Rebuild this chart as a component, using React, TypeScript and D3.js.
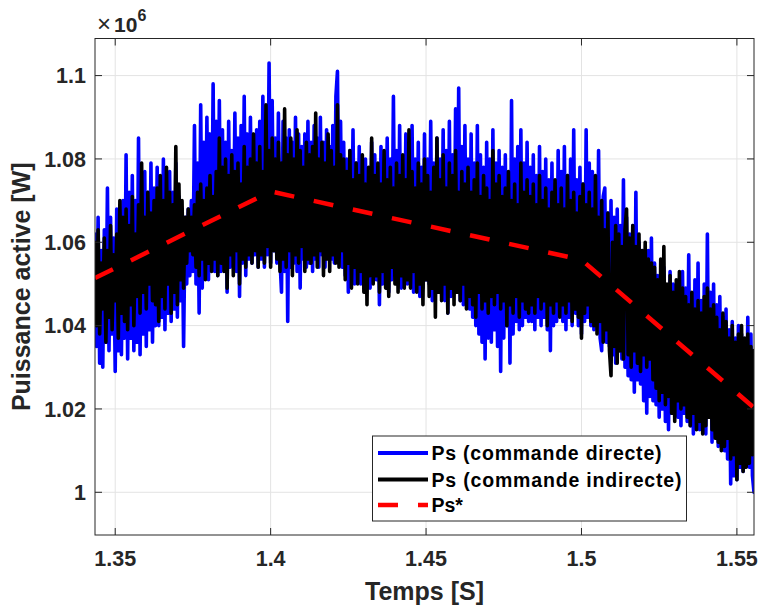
import React from 'react';
import * as d3 from 'd3';

// ---- data (power in units of 1e6 W), sampled every T_STEP seconds from T_START ----
const T_START = 1.3435;
const T_STEP = 0.0005;

const blueValues = [
  1.062, 1.035, 1.066, 1.031, 1.058, 1.030, 1.063, 1.036, 1.073, 1.034, 1.066, 1.038, 1.061, 1.029, 1.068, 1.034, 1.064, 1.033, 1.070, 1.037,
  1.081, 1.032, 1.072, 1.037, 1.076, 1.034, 1.070, 1.036, 1.085, 1.033, 1.074, 1.038, 1.077, 1.035, 1.072, 1.039, 1.079, 1.036, 1.073, 1.040,
  1.078, 1.040, 1.073, 1.042, 1.080, 1.039, 1.074, 1.043, 1.077, 1.041, 1.072, 1.044, 1.079, 1.042, 1.071, 1.046, 1.068, 1.035, 1.066, 1.050,
  1.068, 1.052, 1.070, 1.053, 1.088, 1.050, 1.079, 1.043, 1.093, 1.049, 1.084, 1.052, 1.090, 1.051, 1.086, 1.054, 1.098, 1.053, 1.089, 1.052,
  1.094, 1.053, 1.087, 1.055, 1.084, 1.048, 1.089, 1.054, 1.082, 1.056, 1.091, 1.053, 1.085, 1.047, 1.088, 1.055, 1.095, 1.052, 1.086, 1.056,
  1.090, 1.055, 1.084, 1.057, 1.087, 1.054, 1.089, 1.056, 1.095, 1.054, 1.086, 1.057, 1.103, 1.055, 1.094, 1.058, 1.085, 1.055, 1.091, 1.056,
  1.048, 1.089, 1.053, 1.085, 1.041, 1.087, 1.054, 1.084, 1.055, 1.090, 1.053, 1.086, 1.049, 1.083, 1.056, 1.086, 1.054, 1.089, 1.055, 1.084,
  1.053, 1.088, 1.056, 1.085, 1.054, 1.090, 1.057, 1.084, 1.054, 1.087, 1.058, 1.083, 1.056, 1.088, 1.055, 1.095, 1.101, 1.057, 1.089, 1.054,
  1.084, 1.052, 1.080, 1.048, 1.082, 1.053, 1.087, 1.050, 1.079, 1.052, 1.083, 1.050, 1.078, 1.051, 1.080, 1.049, 1.076, 1.049, 1.084, 1.051,
  1.081, 1.051, 1.077, 1.045, 1.083, 1.050, 1.079, 1.052, 1.085, 1.048, 1.080, 1.051, 1.095, 1.052, 1.082, 1.050, 1.088, 1.049, 1.079, 1.051,
  1.086, 1.050, 1.081, 1.052, 1.088, 1.048, 1.080, 1.051, 1.084, 1.047, 1.078, 1.049, 1.086, 1.051, 1.080, 1.050, 1.089, 1.046, 1.079, 1.048,
  1.085, 1.048, 1.080, 1.050, 1.087, 1.046, 1.082, 1.043, 1.089, 1.047, 1.081, 1.049, 1.092, 1.050, 1.097, 1.046, 1.083, 1.045, 1.088, 1.047,
  1.080, 1.044, 1.086, 1.042, 1.079, 1.040, 1.088, 1.038, 1.081, 1.036, 1.078, 1.032, 1.084, 1.037, 1.080, 1.036, 1.087, 1.039, 1.079, 1.035,
  1.082, 1.029, 1.078, 1.037, 1.081, 1.040, 1.076, 1.031, 1.094, 1.038, 1.080, 1.041, 1.083, 1.039, 1.087, 1.040, 1.079, 1.042, 1.084, 1.041,
  1.078, 1.041, 1.081, 1.039, 1.076, 1.042, 1.083, 1.040, 1.077, 1.042, 1.080, 1.039, 1.075, 1.034, 1.079, 1.040, 1.074, 1.041, 1.082, 1.043,
  1.077, 1.041, 1.083, 1.039, 1.076, 1.042, 1.080, 1.040, 1.087, 1.043, 1.075, 1.040, 1.078, 1.038, 1.074, 1.041, 1.087, 1.042, 1.079, 1.040,
  1.077, 1.039, 1.073, 1.041, 1.082, 1.037, 1.034, 1.071, 1.073, 1.036, 1.067, 1.035, 1.070, 1.033, 1.066, 1.031, 1.068, 1.034, 1.064, 1.032,
  1.075, 1.030, 1.066, 1.028, 1.062, 1.027, 1.064, 1.024, 1.072, 1.027, 1.060, 1.026, 1.058, 1.022, 1.055, 1.019, 1.058, 1.023, 1.061, 1.022,
  1.055, 1.021, 1.052, 1.018, 1.050, 1.020, 1.054, 1.017, 1.048, 1.015, 1.053, 1.019, 1.050, 1.020, 1.047, 1.018, 1.051, 1.016, 1.053, 1.019,
  1.049, 1.017, 1.057, 1.016, 1.047, 1.014, 1.051, 1.017, 1.055, 1.015, 1.046, 1.016, 1.050, 1.014, 1.062, 1.018, 1.048, 1.012, 1.050, 1.015,
  1.045, 1.011, 1.047, 1.013, 1.042, 1.010, 1.044, 1.008, 1.039, 1.002, 1.041, 1.004, 1.037, 1.003, 1.040, 1.006, 1.038, 1.005, 1.036, 1.007,
  1.042, 1.006, 1.038, 1.004, 1.000,
];

const blackValues = [
  1.060, 1.040, 1.063, 1.038, 1.055, 1.044, 1.061, 1.036, 1.058, 1.042, 1.064, 1.039, 1.057, 1.046, 1.062, 1.037, 1.070, 1.043, 1.066, 1.041,
  1.068, 1.039, 1.064, 1.045, 1.071, 1.040, 1.062, 1.047, 1.069, 1.043, 1.079, 1.048, 1.066, 1.044, 1.072, 1.050, 1.067, 1.046, 1.070, 1.045,
  1.073, 1.041, 1.076, 1.047, 1.070, 1.044, 1.078, 1.050, 1.072, 1.043, 1.069, 1.048, 1.083, 1.045, 1.074, 1.051, 1.070, 1.049, 1.066, 1.055,
  1.068, 1.058, 1.066, 1.057, 1.069, 1.054, 1.072, 1.052, 1.074, 1.056, 1.070, 1.051, 1.073, 1.055, 1.076, 1.053, 1.071, 1.056, 1.077, 1.052,
  1.085, 1.055, 1.078, 1.053, 1.080, 1.049, 1.076, 1.057, 1.081, 1.052, 1.077, 1.058, 1.079, 1.050, 1.074, 1.056, 1.083, 1.054, 1.078, 1.057,
  1.080, 1.055, 1.086, 1.058, 1.079, 1.054, 1.083, 1.057, 1.077, 1.055, 1.093, 1.059, 1.082, 1.054, 1.085, 1.058, 1.080, 1.056, 1.084, 1.053,
  1.079, 1.056, 1.092, 1.054, 1.081, 1.058, 1.085, 1.052, 1.080, 1.057, 1.087, 1.055, 1.082, 1.059, 1.078, 1.053, 1.084, 1.056, 1.081, 1.055,
  1.083, 1.057, 1.091, 1.054, 1.080, 1.058, 1.084, 1.052, 1.079, 1.056, 1.086, 1.053, 1.082, 1.057, 1.078, 1.055, 1.093, 1.054, 1.081, 1.058,
  1.080, 1.051, 1.077, 1.055, 1.082, 1.049, 1.075, 1.054, 1.079, 1.050, 1.076, 1.053, 1.081, 1.048, 1.074, 1.045, 1.078, 1.052, 1.085, 1.050,
  1.076, 1.052, 1.079, 1.048, 1.074, 1.053, 1.082, 1.049, 1.075, 1.047, 1.078, 1.054, 1.073, 1.050, 1.079, 1.048, 1.076, 1.052, 1.081, 1.049,
  1.075, 1.051, 1.087, 1.049, 1.077, 1.053, 1.073, 1.048, 1.079, 1.050, 1.074, 1.045, 1.080, 1.051, 1.076, 1.047, 1.072, 1.049, 1.078, 1.042,
  1.085, 1.048, 1.075, 1.046, 1.081, 1.050, 1.073, 1.043, 1.079, 1.049, 1.076, 1.045, 1.082, 1.048, 1.072, 1.046, 1.077, 1.050, 1.074, 1.044,
  1.078, 1.047, 1.072, 1.045, 1.075, 1.042, 1.079, 1.048, 1.071, 1.044, 1.076, 1.046, 1.073, 1.043, 1.070, 1.047, 1.082, 1.045, 1.074, 1.048,
  1.076, 1.044, 1.071, 1.046, 1.073, 1.040, 1.077, 1.045, 1.070, 1.043, 1.074, 1.047, 1.069, 1.042, 1.079, 1.046, 1.072, 1.044, 1.075, 1.043,
  1.071, 1.045, 1.074, 1.043, 1.069, 1.047, 1.076, 1.044, 1.070, 1.046, 1.073, 1.040, 1.068, 1.045, 1.072, 1.043, 1.075, 1.046, 1.069, 1.042,
  1.073, 1.045, 1.068, 1.043, 1.076, 1.046, 1.070, 1.041, 1.072, 1.044, 1.067, 1.042, 1.071, 1.037, 1.074, 1.043, 1.069, 1.045, 1.072, 1.041,
  1.068, 1.040, 1.076, 1.038, 1.066, 1.041, 1.070, 1.036, 1.063, 1.039, 1.067, 1.034, 1.028, 1.060, 1.035, 1.064, 1.031, 1.062, 1.034, 1.059,
  1.032, 1.063, 1.068, 1.033, 1.061, 1.030, 1.064, 1.034, 1.059, 1.031, 1.062, 1.029, 1.058, 1.033, 1.060, 1.030, 1.056, 1.032, 1.055, 1.027,
  1.054, 1.025, 1.051, 1.022, 1.056, 1.024, 1.059, 1.021, 1.050, 1.023, 1.052, 1.019, 1.048, 1.017, 1.051, 1.022, 1.053, 1.020, 1.049, 1.021,
  1.047, 1.018, 1.045, 1.016, 1.048, 1.019, 1.044, 1.015, 1.046, 1.017, 1.043, 1.014, 1.047, 1.016, 1.049, 1.018, 1.044, 1.015, 1.045, 1.013,
  1.042, 1.012, 1.039, 1.010, 1.043, 1.011, 1.041, 1.013, 1.037, 1.008, 1.040, 1.009, 1.036, 1.003, 1.038, 1.007, 1.040, 1.005, 1.037, 1.006,
  1.038, 1.007, 1.035, 1.009, 1.034,
];

const refTimes = [1.3435, 1.4, 1.5, 1.5555];
const refValues = [1.0514, 1.0722, 1.0558, 1.0203];

const xTicks = [1.35, 1.4, 1.45, 1.5, 1.55];
const xTickLabels = ['1.35', '1.4', '1.45', '1.5', '1.55'];
const yTicks = [1, 1.02, 1.04, 1.06, 1.08, 1.1];
const yTickLabels = ['1', '1.02', '1.04', '1.06', '1.08', '1.1'];

const legendLabels = ['Ps (commande directe)', 'Ps (commande indirecte)', 'Ps*'];
const seriesColors = ['#0000ff', '#000000', '#ff0000'];

// ---- layout ----
const W = 762;
const H = 608;
const L = 95, R = 754, T = 38.5, B = 535;
const FONT = '"Liberation Sans", Arial, Helvetica, sans-serif';
const AXC = '#262626';

export default function App() {
  const x = d3.scaleLinear().domain([1.3435, 1.5555]).range([L, R]);
  const y = d3.scaleLinear().domain([0.98975, 1.1089]).range([B, T]);

  const toPts = (vals: number[]) => vals.map((v, i) => [T_START + i * T_STEP, v] as [number, number]);
  const line = d3.line<[number, number]>().x(d => x(d[0])).y(d => y(d[1]));

  const bluePath = line(toPts(blueValues)) || '';
  const blackPath = line(toPts(blackValues)) || '';
  const refPath = line(refTimes.map((t, i) => [t, refValues[i]] as [number, number])) || '';

  const tickLen = 7;
  const legX = 372.5, legY = 436, legW = 314, legH = 85;
  const rowY = [453, 479.5, 505];
  const legTextLen = [230, 250, undefined];

  return (
    <svg width={W} height={H} style={{ position: 'absolute', left: 0, top: 0, background: '#fff' }}
      fontFamily={FONT}>
      <defs>
        <clipPath id="plotClip">
          <rect x={L} y={T} width={R - L} height={B - T} />
        </clipPath>
      </defs>
      <rect x={0} y={0} width={W} height={H} fill="#fff" />
      {/* grid */}
      {xTicks.map((t, i) => (
        <line key={'gx' + i} x1={x(t)} x2={x(t)} y1={T} y2={B} stroke="#e3e3e3" strokeWidth={1} />
      ))}
      {yTicks.map((t, i) => (
        <line key={'gy' + i} x1={L} x2={R} y1={y(t)} y2={y(t)} stroke="#e3e3e3" strokeWidth={1} />
      ))}
      {/* series */}
      <g clipPath="url(#plotClip)" fill="none" strokeLinejoin="round" strokeLinecap="round">
        <path d={bluePath} stroke={seriesColors[0]} strokeWidth={3.6} />
        <path d={blackPath} stroke={seriesColors[1]} strokeWidth={3.6} />
        <path d={refPath} stroke={seriesColors[2]} strokeWidth={4.5} strokeDasharray="20 20" strokeLinecap="butt" />
      </g>
      {/* box */}
      <rect x={L} y={T} width={R - L} height={B - T} fill="none" stroke={AXC} strokeWidth={1} />
      {/* ticks */}
      {xTicks.map((t, i) => (
        <g key={'tx' + i}>
          <line x1={x(t)} x2={x(t)} y1={B} y2={B - tickLen} stroke={AXC} />
          <line x1={x(t)} x2={x(t)} y1={T} y2={T + tickLen} stroke={AXC} />
          <text x={x(t)} y={566} textAnchor="middle" fontSize={21.5} fontWeight="bold" fill={AXC}>
            {xTickLabels[i]}
          </text>
        </g>
      ))}
      {yTicks.map((t, i) => (
        <g key={'ty' + i}>
          <line x1={L} x2={L + tickLen} y1={y(t)} y2={y(t)} stroke={AXC} />
          <line x1={R} x2={R - tickLen} y1={y(t)} y2={y(t)} stroke={AXC} />
          <text x={86} y={y(t)} dy="0.36em" textAnchor="end" fontSize={21.5} fontWeight="bold" fill={AXC}>
            {yTickLabels[i]}
          </text>
        </g>
      ))}
      {/* exponent */}
      <text x={97} y={32} fill={AXC}>
        <tspan fontSize={24}>×</tspan>
        <tspan fontSize={21} fontWeight="bold" dx={3}>10</tspan>
        <tspan fontSize={16} fontWeight="bold" dy={-11}>6</tspan>
      </text>
      {/* axis labels */}
      <text x={(L + R) / 2} y={600} textAnchor="middle" fontSize={25} fontWeight="bold" fill={AXC}>
        Temps [S]
      </text>
      <text transform={`translate(30, ${(T + B) / 2}) rotate(-90)`} textAnchor="middle" fontSize={25}
        fontWeight="bold" fill={AXC}>
        Puissance active [W]
      </text>
      {/* legend */}
      <rect x={legX} y={legY} width={legW} height={legH} fill="#fff" stroke={AXC} strokeWidth={1} />
      {legendLabels.map((lab, i) => (
        <g key={'lg' + i}>
          <line x1={378} x2={428} y1={rowY[i]} y2={rowY[i]} stroke={seriesColors[i]}
            strokeWidth={i === 2 ? 4.5 : 4} strokeDasharray={i === 2 ? '20 20' : undefined} />
          <text x={431.5} y={rowY[i]} dy="0.36em" fontSize={19.5} fontWeight="bold" fill="#000"
            textLength={legTextLen[i]} lengthAdjust={legTextLen[i] ? 'spacing' : undefined}>
            {lab}
          </text>
        </g>
      ))}
    </svg>
  );
}
